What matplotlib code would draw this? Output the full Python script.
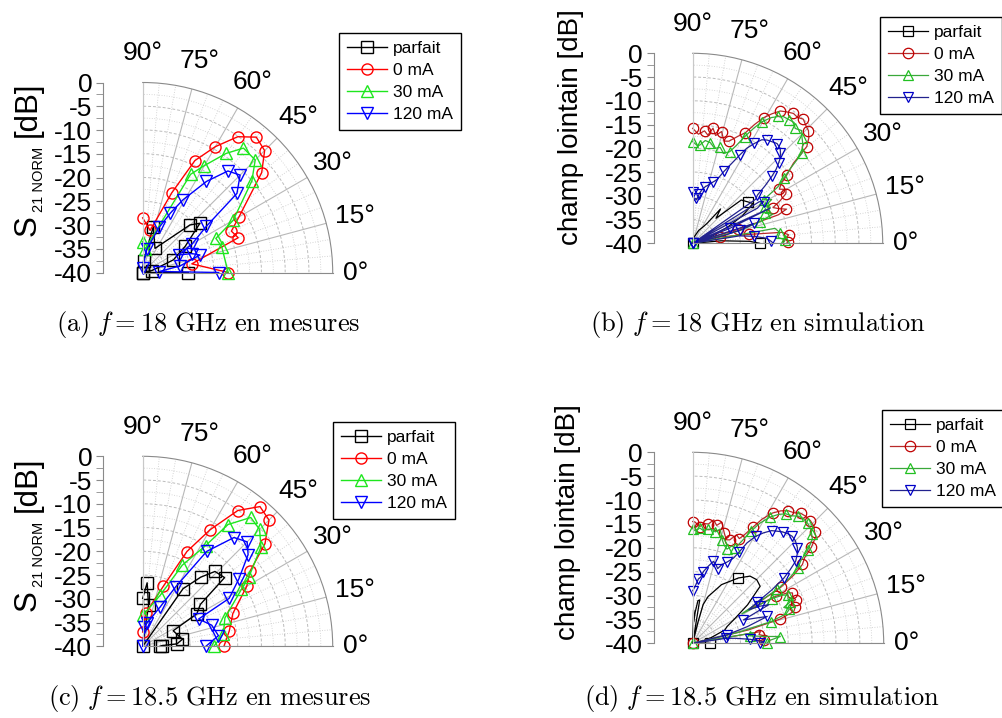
import numpy as np
import matplotlib
matplotlib.use('Agg')
import matplotlib.pyplot as plt

plt.rcParams['font.family'] = ['Liberation Sans', 'DejaVu Sans']
plt.rcParams['mathtext.fontset'] = 'cm'
plt.rcParams['axes.unicode_minus'] = False

labels = ['parfait', '0 mA', '30 mA', '120 mA']

# ---------------- (a) f = 18 GHz, mesures ----------------
a_parfait_deg = [90, 86, 77, 63, 45.2, 40.7, 31.6, 22.4, 12, 5, 0]
a_parfait_db = [-40, -37.5, -30.1, -34.3, -25.9, -24.1, -29.5, -33, -38, -40, -30.4]
a_0ma_deg = [90, 80, 70, 65, 60, 55, 50, 45, 40, 30, 25, 20, 10, 0]
a_0ma_db = [-28.5, -31, -22.2, -14, -9.4, -5.1, -2.8, -3.7, -7.3, -16.6, -19.4, -18.6, -29.5, -22]
a_30ma_deg = [90, 84, 64, 60, 55, 51, 45, 40, 30, 25, 18, 0]
a_30ma_db = [-33.5, -35, -17, -14, -9.4, -6.3, -6.5, -10, -18, -23, -22.5, -22]
a_120ma_deg = [90, 80, 70, 65, 61, 55, 50, 45, 40, 36, 30, 26, 21, 17, 10, 3.4, 0]
a_120ma_db = [-39, -35, -29.9, -26.2, -22.5, -16.6, -12.1, -11, -14.1, -23.4, -28, -31.6, -28.9, -27.4, -32, -36.5, -24]

# ---------------- (b) f = 18 GHz, simulation ----------------
b_parfait_deg = [90, 85, 75, 65, 58, 54, 51, 47, 41.7, 37, 33.5, 29, 25, 18, 10, 5, 2, 0]
b_parfait_db = [-40, -39, -38.5, -37, -36, -34.7, -30.7, -32.8, -26.3, -25.5, -24.8, -28, -31.8, -36.6, -40, -34, -28, -25.9]
b_0ma_deg = [90, 87, 84, 82, 80, 78, 75.5, 73, 70.5, 67, 64.5, 62.5, 60.5, 58.5, 56.5, 54.5, 52.2, 50.2,
             48.3, 46.2, 44.2, 42.2, 40.3, 38.5, 36, 34, 32, 30, 28, 26, 24, 22, 20, 18.4, 17, 15, 13,
             11, 9, 7, 5, 3, 1, 0]
b_0ma_db = [-15.8, -17, -16.2, -17, -15.4, -16.8, -15.7, -17.5, -17.2, -15.5, -14.2, -11.8, -9.6, -8, -6.6, -6, -5.4, -5.5,
            -5, -5.6, -6, -7, -8.5, -12.9, -15.5, -17.5, -18.5, -17.3, -17.8, -19.5, -21.5, -20.5, -19, -21, -30, -40, -34,
            -32, -28, -21, -19.7, -20.5, -20, -20.2]
b_30ma_deg = [90, 87, 85.7, 83, 80, 77, 74, 71, 68, 66, 64, 62, 60.4, 58, 56, 54.4, 52, 50, 48.3, 46, 44, 42,
              39.5, 37.5, 35.5, 33.5, 31.5, 29, 27, 25, 22.5, 20, 17.8, 15, 13, 10.3, 7, 4, 2, 0]
b_30ma_db = [-18.6, -19.5, -19.2, -18.2, -18.5, -19.5, -19, -20, -19.2, -17.5, -15, -12.5, -10.6, -8.8, -7.8, -7.2, -7, -6.8,
             -7.6, -7, -8, -8.8, -10.2, -14, -16.5, -18.5, -22.5, -21, -23, -22, -23.5, -22, -25.1, -30, -40, -22.4, -21.5,
             -22, -20.5, -21]
b_120ma_deg = [90, 88, 86, 84.7, 82.5, 80.4, 77.5, 75, 72, 69.2, 66.5, 64, 62, 60.4, 58.3, 56.3, 54.2, 52.2, 49.8,
               47.4, 45.8, 44.2, 43, 41.6, 40.2, 38.5, 36.7, 35, 33.5, 32, 30.5, 28.5, 26.5, 24.4, 22, 20, 18, 16.7,
               15.7, 14, 12, 9, 6.5, 3.9, 1.5, 0]
b_120ma_db = [-29.3, -31, -30.5, -30.8, -29.5, -28.6, -27.8, -27.3, -26.5, -25.7, -23.5, -21.3, -19, -17, -15.3, -13.8, -13.2,
              -12.9, -12.5, -12.8, -13.5, -14.3, -15.3, -16.5, -18.2, -20.5, -23, -23.8, -40, -23.5, -22.7, -24.5, -40,
              -22.1, -31.5, -40, -26.5, -27.8, -29.6, -33, -40, -30, -27, -24.4, -23.5, -23]

# ---------------- (c) f = 18.5 GHz, mesures ----------------
c_parfait_deg = [90, 86, 82, 75, 55, 50, 46, 40, 36, 31, 27, 10, 4, 2, 0]
c_parfait_db = [-29.9, -26.6, -31.2, -40, -25.2, -21, -18.1, -17.5, -25, -26.7, -32.8, -31.5, -32.8, -36, -36.4]
c_0ma_deg = [90, 85, 71, 65, 60, 55, 50, 45, 40, 35, 30, 20, 10, 0]
c_0ma_db = [-37, -33, -26.6, -18, -11.7, -5.1, -1.6, -2.4, -6.4, -12.4, -14.7, -19.8, -21.5, -22.9]
c_30ma_deg = [89, 71, 64, 58, 55, 50, 45, 40, 33, 30, 19, 9, 0]
c_30ma_db = [-33.4, -28.6, -21, -15, -8.7, -4.6, -5.2, -7.5, -13.4, -16, -21.7, -22.8, -25]
c_120ma_deg = [90, 85, 80, 66, 61, 56, 50, 45, 41, 35, 29, 26, 17, 8, 0]
c_120ma_db = [-40, -36, -35.1, -30.9, -25.7, -15.9, -10.1, -8.9, -10.6, -15.3, -19.2, -26.9, -24.8, -23.9, -26.7]

# ---------------- (d) f = 18.5 GHz, simulation ----------------
d_parfait_deg = [90, 88.5, 87, 85.5, 83, 80.8, 79, 76, 74.9, 71.8, 63.8, 55, 49.5, 44.8, 40.2, 35, 30, 26, 22.6,
                 17, 10, 5, 0]
d_parfait_db = [-40, -33, -35.5, -33.5, -31, -30.8, -40, -35.3, -31.6, -29.7, -26.3, -23.3, -21.5, -21.1, -21.5,
                -26, -30, -32, -32.7, -36, -38.5, -39, -36.4]
d_0ma_deg = [90, 88.9, 86.5, 84.6, 82.5, 80.4, 78.5, 76.5, 74, 72, 70.3, 68, 66, 64.7, 62.5, 60.8, 58.5, 56.4, 54.3,
             52.2, 50.3, 48.4, 46.2, 44, 42.5, 41, 39, 37.4, 35.7, 34, 32.5, 31, 29.5, 28, 26.8, 25, 23, 21.5,
             19.5, 17.5, 15.5, 13.5, 11.5, 9.8, 7.5, 5.5, 2.7, 0]
d_0ma_db = [-14.5, -14.6, -15.5, -14.8, -14.8, -13.8, -14.8, -13.9, -16, -17.2, -17, -15.5, -16, -15, -12.5, -10.2, -8,
            -6.7, -5.8, -5.4, -4.6, -4.4, -4.4, -4.7, -5.4, -5.8, -8, -10.5, -11.7, -14.5, -18, -27, -20, -17.5, -16.6,
            -16.9, -16.6, -18, -17.2, -17.8, -21, -28, -40, -25.6, -26, -24.5, -25.1, -25.5]
d_30ma_deg = [90, 88.5, 86.5, 84.5, 82.5, 80.5, 78.5, 76.5, 74, 72, 70, 68, 66, 64.5, 62.5, 60.8, 58.5, 56.4, 54.3,
              52.2, 50.3, 48.4, 46.2, 44, 42.5, 41, 39, 37.4, 35.7, 34, 32.5, 31, 29.5, 28, 26.8, 25, 23, 21.5,
              19.5, 17.5, 15.5, 13.5, 11.5, 9.8, 7.5, 5.5, 4.4, 2, 0]
d_30ma_db = [-16, -16.5, -15.8, -16.3, -15.9, -15.8, -16.2, -15.4, -17.5, -18.5, -19, -18, -18.2, -16.5, -13.5, -11.2,
             -9, -7.6, -6.6, -6.2, -5.4, -5.1, -5.2, -5.6, -6.2, -6.8, -9, -11.5, -12.8, -15.5, -19, -28, -21, -18.5,
             -17.6, -18, -17.8, -19.5, -18.5, -19.5, -23, -30, -40, -27, -28, -25, -21.6, -24, -24.5]
d_120ma_deg = [90, 87.6, 85, 83, 81.5, 78.5, 75.8, 73, 71.5, 69.7, 67, 64.4, 63, 61.6, 59.5, 57.3, 55, 53, 51, 49,
               47.1, 45, 42.4, 40.5, 38.6, 37, 35.6, 34, 32.5, 30.9, 29, 26.9, 24.7, 22, 19.8, 17, 13.8, 11, 8.5,
               6.7, 4, 1.3, 0]
d_120ma_db = [-29, -28.1, -26.5, -26, -24.8, -23.5, -22.3, -23, -23.5, -22.4, -21.5, -20.2, -18.5, -16.1, -14, -12.5,
              -11.2, -10.6, -10, -9.6, -9.4, -9.6, -10.3, -11.2, -12.4, -14.5, -16.5, -20, -24, -26.3, -24, -22.1,
              -28.3, -26, -23.4, -28, -32.6, -40, -33, -31, -28, -25.1, -26]

W, H = 1003, 718
fig = plt.figure(figsize=(W / 100, H / 100), dpi=100)
renderer = fig.canvas.get_renderer()


def fx(x):
    return x / W


def fy(y):
    return 1 - y / H


meas_colors = ['black', '#ff0000', '#1ee61e', '#0000ff']
sim_line = ['black', '#b82a2a', '#3aa83a', '#22228e']
sim_edge = ['black', '#c00000', '#22c022', '#0000c8']
markers = ['s', 'o', '^', 'v']


def panel(cx, cy, R, scale_x, series, sim, legend_xy):
    ax = fig.add_axes([fx(cx), fy(cy), R / W, R / H], projection='polar')
    ax.set_thetamin(0)
    ax.set_thetamax(90)
    ax.set_ylim(-40, 0)
    ax.set_xticks(np.deg2rad(np.arange(0, 91, 15)))
    ax.set_xticks(np.deg2rad(np.arange(0, 91, 5)), minor=True)
    ax.set_xticklabels([])
    ax.set_yticks(np.arange(-35, 0, 5))
    ax.set_yticks(np.arange(-37.5, 0, 5), minor=True)
    ax.set_yticklabels([])
    ax.tick_params(which='both', length=0)
    ax.xaxis.grid(True, which='major', color='#b8b8b8', lw=0.8, ls='-')
    ax.xaxis.grid(True, which='minor', color='#c8c8c8', lw=0.6, ls=(0, (1, 2)))
    ax.yaxis.grid(True, which='major', color='#bcbcbc', lw=0.7, ls=(0, (3, 2)))
    ax.yaxis.grid(True, which='minor', color='#cccccc', lw=0.6, ls=(0, (1, 2)))
    ax.spines['polar'].set_color('#8a8a8a')
    ax.spines['start'].set_color('#8a8a8a')
    ax.spines['end'].set_color('#c8c8c8')

    handles = []
    for i, (deg, db) in enumerate(series):
        if sim:
            if i == 0:
                me = [0, len(deg) // 2, len(deg) - 1]
            else:
                me = 2
            ln, = ax.plot(np.deg2rad(deg), db, color=sim_line[i], lw=0.9, marker=markers[i], ms=7.5,
                          mfc='none', mec=sim_edge[i], mew=0.9, markevery=me, clip_on=False)
        else:
            ln, = ax.plot(np.deg2rad(deg), db, color=meas_colors[i], lw=1.0, marker=markers[i], ms=8,
                          mfc='none', mec=meas_colors[i], mew=1.0, clip_on=False)
        handles.append(ln)

    for t in range(0, 91, 15):
        rr = 4.8 if t == 0 else 6.2
        ax.text(np.deg2rad(t), rr, f'{t}°', ha='center', va='center', fontsize=19, clip_on=False)

    sx = fig.add_axes([fx(scale_x), fy(cy), 0.0001, R / H])
    sx.patch.set_visible(False)
    for s in ['top', 'right', 'bottom']:
        sx.spines[s].set_visible(False)
    sx.spines['left'].set_color('#8a8a8a')
    sx.set_xticks([])
    sx.set_ylim(-40, 0)
    ticks = np.arange(-40, 1, 5)
    sx.set_yticks(ticks)
    sx.set_yticklabels([str(int(v)) for v in ticks])
    sx.set_yticks(np.arange(-37.5, 0, 5), minor=True)
    sx.tick_params(axis='y', which='major', length=5, color='#8a8a8a', labelsize=19, pad=3)
    sx.tick_params(axis='y', which='minor', length=5, color='#8a8a8a')

    fig.legend(handles, labels, loc='upper left', bbox_to_anchor=(fx(legend_xy[0]), fy(legend_xy[1])),
               fontsize=12.5, frameon=True, fancybox=False, framealpha=1, edgecolor='black',
               borderaxespad=0, borderpad=0.45, labelspacing=0.4, handlelength=2.3, handletextpad=0.35)
    return ax


def s21_label(x_base, y_start):
    t1 = fig.text(fx(x_base), fy(y_start), 'S', fontsize=22.5, rotation=90, rotation_mode='anchor',
                  ha='left', va='baseline')
    y1 = t1.get_window_extent(renderer).y1
    t2 = fig.text(fx(x_base + 7), (y1 + 3) / H, '21 NORM', fontsize=10.5, rotation=90,
                  rotation_mode='anchor', ha='left', va='baseline')
    y2 = t2.get_window_extent(renderer).y1
    fig.text(fx(x_base), (y2 + 10) / H, '[dB]', fontsize=22.5, rotation=90, rotation_mode='anchor',
             ha='left', va='baseline')


panel(142.7, 272.5, 190, 103.3,
      [(a_parfait_deg, a_parfait_db), (a_0ma_deg, a_0ma_db), (a_30ma_deg, a_30ma_db), (a_120ma_deg, a_120ma_db)],
      False, (339, 33))
panel(692.7, 243.3, 190, 654,
      [(b_parfait_deg, b_parfait_db), (b_0ma_deg, b_0ma_db), (b_30ma_deg, b_30ma_db), (b_120ma_deg, b_120ma_db)],
      True, (880, 17))
panel(142.7, 646.3, 190, 103.3,
      [(c_parfait_deg, c_parfait_db), (c_0ma_deg, c_0ma_db), (c_30ma_deg, c_30ma_db), (c_120ma_deg, c_120ma_db)],
      False, (333, 422))
panel(692.7, 643.3, 191, 654,
      [(d_parfait_deg, d_parfait_db), (d_0ma_deg, d_0ma_db), (d_30ma_deg, d_30ma_db), (d_120ma_deg, d_120ma_db)],
      True, (882, 410))

s21_label(36, 236)
s21_label(36, 611)
fig.text(fx(571), fy(127), 'champ lointain [dB]', rotation=90, ha='center', va='center', fontsize=20)
fig.text(fx(568), fy(522), 'champ lointain [dB]', rotation=90, ha='center', va='center', fontsize=20)

fig.text(fx(208), fy(324), r'$\mathrm{(a)}\ f=18\ \mathrm{GHz\ en\ mesures}$', fontsize=19, ha='center', va='center')
fig.text(fx(758), fy(324), r'$\mathrm{(b)}\ f=18\ \mathrm{GHz\ en\ simulation}$', fontsize=19, ha='center', va='center')
fig.text(fx(210), fy(698), r'$\mathrm{(c)}\ f=18.5\ \mathrm{GHz\ en\ mesures}$', fontsize=19, ha='center', va='center')
fig.text(fx(762), fy(698), r'$\mathrm{(d)}\ f=18.5\ \mathrm{GHz\ en\ simulation}$', fontsize=19, ha='center', va='center')

fig.savefig('out.png', dpi=100)
